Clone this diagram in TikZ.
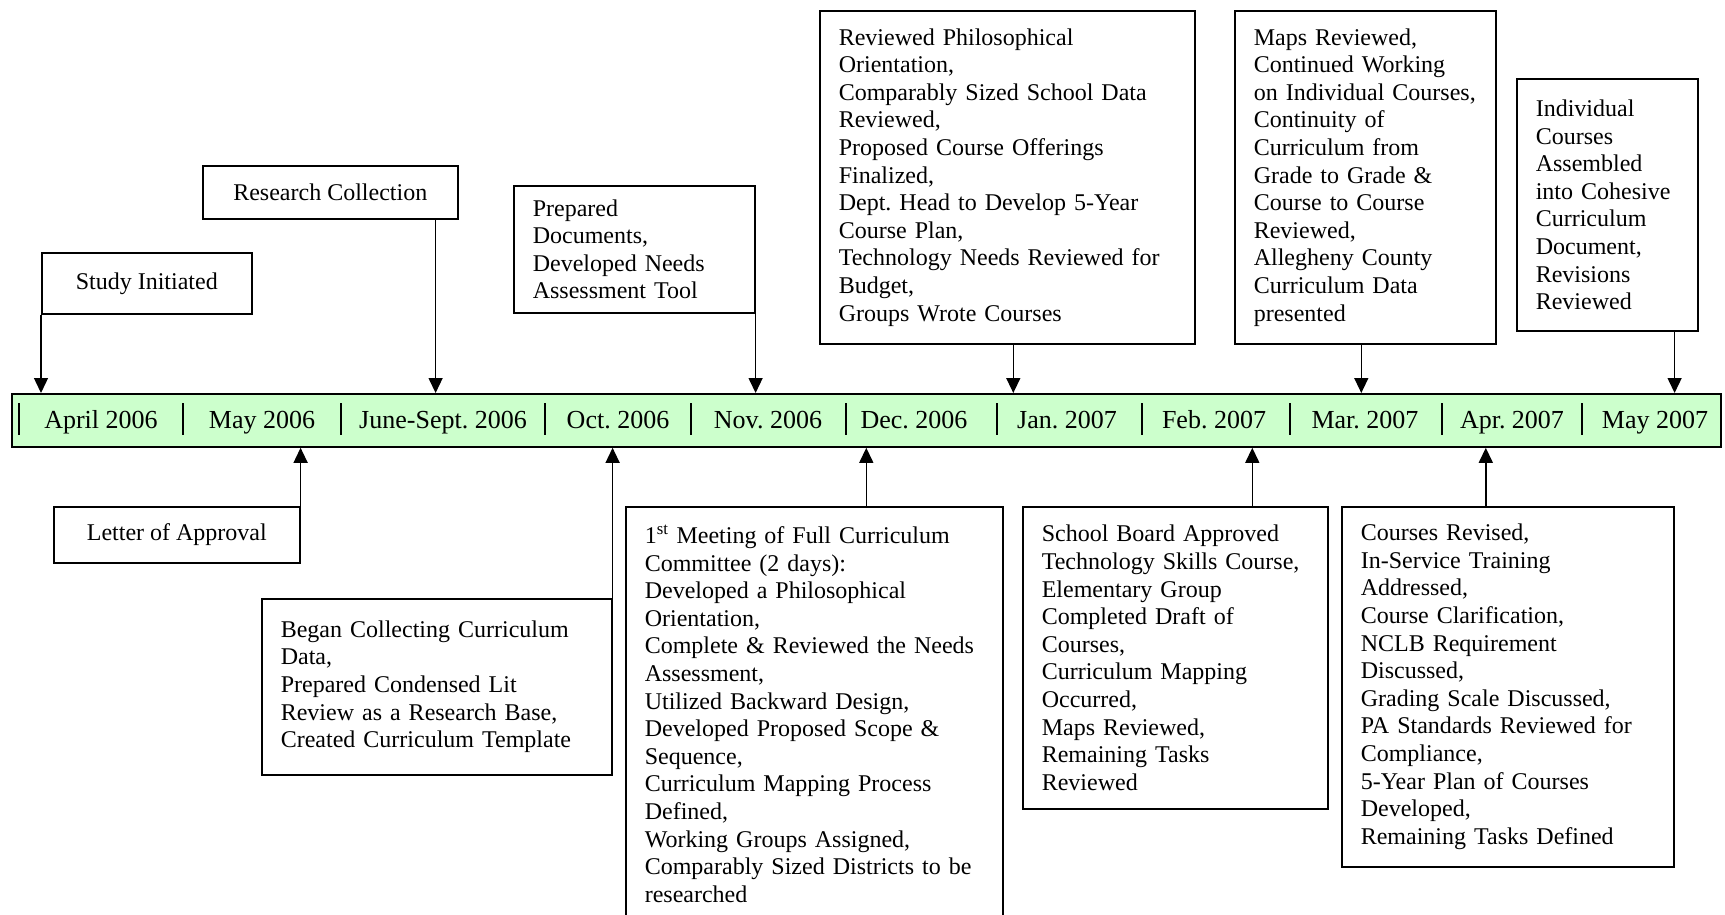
\documentclass[tikz,border=0pt]{standalone}
\usepackage{fontspec}
\setmainfont{Liberation Serif}
\usetikzlibrary{arrows.meta}
\definecolor{barfill}{HTML}{CCFFCC}
\newcommand{\boxfont}{\fontsize{24}{27.6}\selectfont}
\newcommand{\monthfont}{\fontsize{26}{30}\selectfont}
\frenchspacing

\begin{document}
\begin{tikzpicture}[x=1pt,y=-1pt,>={Triangle[length=15pt,width=14pt]},
  event/.style={draw,line width=1.6pt,fill=white,anchor=north west,font=\boxfont,align=left,inner xsep=19pt,inner ysep=0pt},
  tagbox/.style={draw,line width=1.6pt,fill=white,anchor=north west,font=\boxfont,align=center,inner sep=0pt},
  month/.style={font=\monthfont,anchor=base,inner sep=0pt},
  link/.style={->,line width=1.4pt}]
  \useasboundingbox (0,0) rectangle (1725,914);

  \node[draw,line width=1.8pt,fill=barfill,anchor=north west,minimum width=1709pt,minimum height=53pt,inner sep=0pt] (bar) at (11,393) {};
  \foreach \x in {19,183,341,545,691,846,997,1142,1290,1442,1582}
    \draw[line width=2pt] (\x,403) -- (\x,435);
  \foreach \i/\x/\m in {1/101/April 2006,2/262/May 2006,3/443/June-Sept. 2006,4/618/Oct. 2006,5/768/Nov. 2006,6/914/Dec. 2006,7/1067/Jan. 2007,8/1214/Feb. 2007,9/1365/Mar. 2007,10/1512/Apr. 2007,11/1655/May 2007}
    \node[month] (m\i) at (\x,428) {\m};

  \node[tagbox,minimum width=210pt,minimum height=61pt] (study) at (41,252) {Study Initiated};
  \node[tagbox,minimum width=255pt,minimum height=53pt] (research) at (202,165) {Research Collection};
  \node[event,text width=203pt,minimum height=127pt] (prepared) at (513,185)
    {Prepared\\Documents,\\Developed Needs\\Assessment Tool};
  \node[event,text width=337pt,minimum height=333pt] (reviewed) at (819,10)
    {Reviewed Philosophical\\Orientation,\\Comparably Sized School Data\\Reviewed,\\Proposed Course Offerings\\Finalized,\\Dept. Head to Develop 5-Year\\Course Plan,\\Technology Needs Reviewed for\\Budget,\\Groups Wrote Courses};
  \node[event,text width=223pt,minimum height=333pt] (maps) at (1234,10)
    {Maps Reviewed,\\Continued Working\\on Individual Courses,\\Continuity of\\Curriculum from\\Grade to Grade \&\\Course to Course\\Reviewed,\\Allegheny County\\Curriculum Data\\presented};
  \node[event,text width=143pt,minimum height=252pt] (indiv) at (1516,78)
    {Individual\\Courses\\Assembled\\into Cohesive\\Curriculum\\Document,\\Revisions\\Reviewed};

  \node[tagbox,minimum width=246pt,minimum height=56pt] (letter) at (53,506) {Letter of Approval};
  \node[event,text width=312pt,minimum height=176pt] (began) at (261,598)
    {Began Collecting Curriculum\\Data,\\Prepared Condensed Lit\\Review as a Research Base,\\Created Curriculum Template};
  \node[event,text width=339pt,minimum height=414pt] (meeting) at (625,506)
    {1\textsuperscript{st} Meeting of Full Curriculum\\Committee (2 days):\\Developed a Philosophical\\Orientation,\\Complete \& Reviewed the Needs\\Assessment,\\Utilized Backward Design,\\Developed Proposed Scope \&\\Sequence,\\Curriculum Mapping Process\\Defined,\\Working Groups Assigned,\\Comparably Sized Districts to be\\researched};
  \node[event,text width=267pt,minimum height=302pt] (school) at (1022,506)
    {School Board Approved\\Technology Skills Course,\\Elementary Group\\Completed Draft of\\Courses,\\Curriculum Mapping\\Occurred,\\Maps Reviewed,\\Remaining Tasks\\Reviewed};
  \node[event,text width=294pt,minimum height=360pt] (courses) at (1341,506)
    {Courses Revised,\\In-Service Training\\Addressed,\\Course Clarification,\\NCLB Requirement\\Discussed,\\Grading Scale Discussed,\\PA Standards Reviewed for\\Compliance,\\5-Year Plan of Courses\\Developed,\\Remaining Tasks Defined};

  \draw[link] (study.south west) -- (study.south west |- bar.north);
  \draw[link] ([xshift=-23pt]research.south east) -- ([xshift=-23pt]research.south east |- bar.north);
  \draw[link] (prepared.south east) -- (prepared.south east |- bar.north);
  \draw[link] ([xshift=6pt]reviewed.south) -- ([xshift=6pt]reviewed.south |- bar.north);
  \draw[link] ([xshift=-4pt]maps.south) -- ([xshift=-4pt]maps.south |- bar.north);
  \draw[link] ([xshift=-24pt]indiv.south east) -- ([xshift=-24pt]indiv.south east |- bar.north);
  \draw[link] (letter.north east) -- (letter.north east |- bar.south);
  \draw[link] (began.north east) -- (began.north east |- bar.south);
  \draw[link] ([xshift=52pt]meeting.north) -- ([xshift=52pt]meeting.north |- bar.south);
  \draw[link] ([xshift=77pt]school.north) -- ([xshift=77pt]school.north |- bar.south);
  \draw[link] ([xshift=-22pt]courses.north) -- ([xshift=-22pt]courses.north |- bar.south);
\end{tikzpicture}
\end{document}
